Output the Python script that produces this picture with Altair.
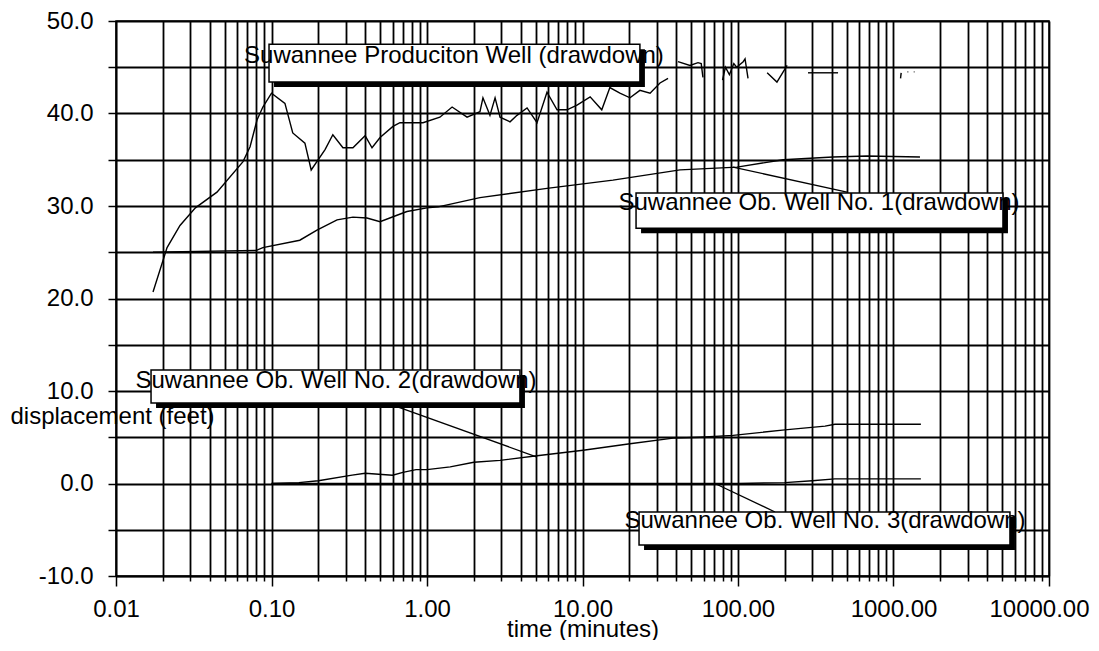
import altair as alt
import pandas as pd

# ---------------- data ----------------
# Suwannee Production Well (drawdown) -- broken into segments at the end
prod_t = [0.0173, 0.0213, 0.0258, 0.0324, 0.0446, 0.0656, 0.0728, 0.0807, 0.088, 0.100,
          0.122, 0.137, 0.164, 0.180, 0.221, 0.248, 0.288, 0.334, 0.400, 0.443,
          0.499, 0.604, 0.670, 0.942, 1.21, 1.45, 1.81, 2.19, 2.29, 2.54,
          2.74, 2.95, 3.42, 3.79, 4.40, 5.10, 5.91, 6.86, 7.95, 9.22,
          11.2, 13.3, 15.0, 17.4, 20.2, 23.4, 27.2, 31.5, 35.5,
          41.1, 49.1, 55.3, 58.0, 59.5,
          79.5, 83.0, 88.0, 94.0, 98.0, 108.0, 111.0, 116.0,
          154.0, 178.0, 207.0,
          282.0, 380.0, 440.0,
          1110.0, 1120.0,
          1230.0, 1245.0,
          1350.0, 1365.0]
prod_v = [20.7, 25.5, 27.9, 29.8, 31.5, 34.8, 36.4, 39.3, 40.7, 42.2,
          41.1, 37.9, 36.8, 33.9, 36.1, 37.7, 36.3, 36.3, 37.6, 36.3,
          37.4, 38.6, 39.0, 39.0, 39.6, 40.7, 39.6, 40.2, 41.7, 39.8,
          41.7, 39.6, 39.1, 39.8, 40.6, 39.0, 42.3, 40.4, 40.4, 40.9,
          41.8, 40.4, 42.8, 42.2, 41.7, 42.5, 42.2, 43.3, 43.8,
          45.6, 45.2, 45.5, 45.4, 43.9,
          43.6, 45.0, 44.2, 45.4, 45.0, 45.6, 45.9, 43.8,
          44.4, 43.4, 45.2,
          44.4, 44.4, 44.4,
          43.8, 44.4,
          44.5, 44.5,
          44.5, 44.5]
prod_seg = [0] * 49 + [1] * 5 + [2] * 8 + [3] * 3 + [4] * 3 + [5] * 2 + [6] * 2 + [7] * 2

# Suwannee Ob. Well No. 1 (drawdown)
ob1_t = [0.0173, 0.080, 0.088, 0.152, 0.196, 0.264, 0.334, 0.411, 0.499, 0.641,
         0.743, 1.0, 1.18, 2.19, 5.91, 15.7, 42.4, 98.6, 195.0, 408.0, 676.0, 1480.0]
ob1_v = [25.0, 25.2, 25.5, 26.3, 27.4, 28.5, 28.8, 28.7, 28.3, 29.0,
         29.4, 29.8, 29.9, 30.9, 31.9, 32.8, 33.9, 34.2, 35.0, 35.3, 35.4, 35.3]

# Suwannee Ob. Well No. 2 (drawdown)
ob2_t = [0.1, 0.15, 0.2, 0.33, 0.4, 0.6, 0.7, 0.85, 1.0, 1.41, 2.0, 2.95, 5.1,
         10.1, 20.2, 38.2, 57.0, 93.0, 200.0, 363.0, 420.0, 1500.0]
ob2_v = [0.0, 0.1, 0.3, 0.9, 1.1, 0.9, 1.2, 1.5, 1.5, 1.8, 2.3, 2.5, 3.0,
         3.6, 4.3, 4.9, 5.0, 5.2, 5.8, 6.2, 6.4, 6.4]

# Suwannee Ob. Well No. 3 (drawdown)
ob3_t = [0.1, 100.0, 200.0, 300.0, 420.0, 1500.0]
ob3_v = [0.0, 0.0, 0.1, 0.3, 0.5, 0.5]

# labels (box corners, text anchor, leader lines) in data units
ann_text = ["Suwannee Produciton Well (drawdown)",
            "Suwannee Ob. Well No. 1(drawdown)",
            "Suwannee Ob. Well No. 2(drawdown)",
            "Suwannee Ob. Well No. 3(drawdown)"]
ann_tx = [1.49, 332.0, 0.260, 363.0]
ann_ty = [45.5, 29.6, 10.3, -4.8]
box_t1 = [0.0964, 22.1, 0.0168, 23.1]
box_t2 = [23.4, 5058.0, 3.96, 5610.0]
box_v1 = [47.5, 31.4, 12.27, -3.08]
box_v2 = [43.4, 27.6, 8.70, -6.65]

lead_t1 = [92.9, 0.578, 71.1]
lead_v1 = [34.2, 8.59, 0.0]
lead_t2 = [502.0, 5.10, 173.0]
lead_v2 = [31.5, 2.86, -3.08]

x_ticks = sorted(set([round(k * 10.0 ** n, 6) for n in range(-2, 4) for k in range(1, 10)] + [10000.0]))
y_ticks = list(range(-10, 51, 5))

# ---------------- tables ----------------
rows = []
for i, (t, v, s) in enumerate(zip(prod_t, prod_v, prod_seg)):
    rows.append({"t": t, "v": v, "key": f"prod{s}", "i": i})
for name, ts, vs in [("ob1", ob1_t, ob1_v), ("ob2", ob2_t, ob2_v), ("ob3", ob3_t, ob3_v)]:
    for i, (t, v) in enumerate(zip(ts, vs)):
        rows.append({"t": t, "v": v, "key": name, "i": i})
df_lines = pd.DataFrame(rows)

df_box = pd.DataFrame({"t": box_t1, "t2": box_t2, "v": box_v1, "v2": box_v2})
df_txt = pd.DataFrame({"t": ann_tx, "v": ann_ty, "label": ann_text})
df_lead = pd.DataFrame({"t": lead_t1, "v": lead_v1, "t2": lead_t2, "v2": lead_v2})

FONT = "Liberation Sans"
MAJOR = "abs(log(datum.value)/LN10 - round(log(datum.value)/LN10)) < 0.001"

x_scale = alt.Scale(type="log", domain=[0.01, 10000], nice=False)
y_scale = alt.Scale(domain=[-10, 50], nice=False)

x_axis = alt.Axis(
    title="time (minutes)", values=x_ticks,
    labelExpr=MAJOR + " ? format(datum.value, '.2f') : ''",
    grid=True, gridColor="black", gridWidth=1.8, gridOpacity=1,
    tickColor="black", tickWidth=1.5,
    tickSize={"condition": {"test": MAJOR, "value": 10}, "value": 5},
    domainColor="black", domainWidth=1.5,
    labelFont=FONT, labelFontSize=24, labelColor="black", labelPadding=11,
    labelOffset={"condition": {"test": "datum.value > 5000", "value": -10}, "value": 0},
    labelOverlap=False, labelFlush=False,
    titleFont=FONT, titleFontSize=24, titleFontWeight="normal", titleColor="black",
    titleBaseline="alphabetic", titleY=60,
)
y_axis = alt.Axis(
    title="displacement (feet)", values=y_ticks,
    labelExpr="datum.value % 10 == 0 ? ((datum.value < 0 ? '-' : '') + format(abs(datum.value), '.1f')) : ''",
    grid=True, gridColor="black", gridWidth=1.8, gridOpacity=1,
    tickColor="black", tickSize=8, tickWidth=1.5,
    domainColor="black", domainWidth=1.5,
    labelFont=FONT, labelFontSize=24, labelColor="black", labelPadding=15,
    labelOverlap=False,
    titleFont=FONT, titleFontSize=24, titleFontWeight="normal", titleColor="black",
    titleAngle=0, titleAlign="left", titleBaseline="alphabetic",
    titleX=-106, titleY=402,
)

X = lambda f: alt.X(f, type="quantitative", scale=x_scale, axis=x_axis)
Y = lambda f: alt.Y(f, type="quantitative", scale=y_scale, axis=y_axis)

lines = alt.Chart(df_lines).mark_line(color="black", strokeWidth=1.4).encode(
    x=X("t"), y=Y("v"), detail="key:N", order="i:Q"
)
leads = alt.Chart(df_lead).mark_rule(color="black", strokeWidth=1.3).encode(
    x=X("t"), y=Y("v"), x2="t2:Q", y2="v2:Q"
)
shadows = alt.Chart(df_box).mark_rect(
    fill="black", xOffset=5, x2Offset=5, yOffset=5, y2Offset=5
).encode(x=X("t"), x2="t2:Q", y=Y("v"), y2="v2:Q")
boxes = alt.Chart(df_box).mark_rect(fill="white", stroke="black", strokeWidth=1.5).encode(
    x=X("t"), x2="t2:Q", y=Y("v"), y2="v2:Q"
)
texts = alt.Chart(df_txt).mark_text(
    font=FONT, fontSize=24, color="black", align="center", baseline="alphabetic"
).encode(x=X("t"), y=Y("v"), text="label:N")

chart = alt.layer(lines, leads, shadows, boxes, texts).properties(
    width=933, height=555,
    padding={"left": 108, "top": 13, "right": 42, "bottom": 64},
    autosize=alt.AutoSizeParams(type="none"),
    background="white",
).configure_view(stroke="black", strokeWidth=1.5)

chart.save("out.html", embed_options={"renderer": "svg", "actions": False})
